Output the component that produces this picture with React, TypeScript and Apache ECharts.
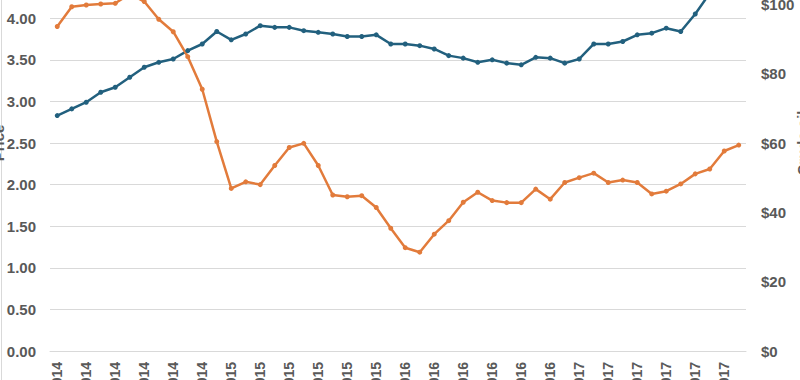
import React, { useEffect, useRef } from "react";
import * as echarts from "echarts";

const months = ["Jan", "Feb", "Mar", "Apr", "May", "Jun", "Jul", "Aug", "Sep", "Oct", "Nov", "Dec"];
const years = [2014, 2015, 2016, 2017];
const categories: string[] = [];
years.forEach((y) => months.forEach((m) => categories.push(`${m} ${y}`)));

const blueSeries = [
  2.83, 2.91, 2.99, 3.11, 3.17, 3.29, 3.41, 3.47, 3.51, 3.61, 3.69, 3.84,
  3.74, 3.81, 3.91, 3.89, 3.89, 3.85, 3.83, 3.81, 3.78, 3.78, 3.8, 3.69,
  3.69, 3.67, 3.63, 3.55, 3.52, 3.47, 3.5, 3.46, 3.44, 3.53, 3.52, 3.46,
  3.51, 3.69, 3.69, 3.72, 3.8, 3.82, 3.88, 3.84, 4.05, 4.3, 4.42, 4.5,
];

const orangeSeries = [
  93.6, 99.3, 99.8, 100.1, 100.3, 103.0, 100.8, 95.7, 92.1, 84.9, 75.5, 60.4,
  46.9, 48.8, 48.0, 53.5, 58.7, 59.9, 53.5, 45.0, 44.5, 44.8, 41.4, 35.4,
  29.8, 28.5, 33.7, 37.6, 42.9, 45.8, 43.4, 42.8, 42.8, 46.7, 43.8, 48.6,
  50.0, 51.3, 48.6, 49.3, 48.6, 45.3, 46.1, 48.2, 51.1, 52.5, 57.7, 59.4,
];

const leftTicks = { min: 0, max: 5, interval: 0.5 };
const rightTicks = { min: 0, max: 120, interval: 20 };

export default function App() {
  const ref = useRef<HTMLDivElement>(null);

  useEffect(() => {
    if (!ref.current) return;
    const chart = echarts.init(ref.current, undefined, { renderer: "svg" });
    const labelStyle = {
      color: "#595959",
      fontWeight: "bold" as const,
      fontFamily: "Liberation Sans, Arial, sans-serif",
    };
    chart.setOption({
      animation: false,
      backgroundColor: "#ffffff",
      grid: {
        left: 50,
        right: 54,
        top: 35,
        bottom: 109,
        containLabel: false,
        outerBoundsMode: "none",
      },
      xAxis: {
        type: "category",
        data: categories,
        boundaryGap: true,
        axisTick: { show: false },
        axisLine: { show: true, lineStyle: { color: "#d9d9d9", width: 1 } },
        axisLabel: {
          ...labelStyle,
          fontSize: 14,
          rotate: 90,
          interval: 1,
          margin: 11,
        },
      },
      yAxis: [
        {
          type: "value",
          ...leftTicks,
          name: "Price",
          nameLocation: "middle",
          nameGap: 44,
          nameMoveOverlap: false,
          nameTextStyle: { ...labelStyle, fontSize: 15 },
          axisLine: { show: false },
          axisTick: { show: false },
          axisLabel: {
            ...labelStyle,
            fontSize: 15,
            margin: 14,
            formatter: (v: number) => v.toFixed(2),
          },
          splitLine: { show: true, lineStyle: { color: "#d9d9d9", width: 1 } },
        },
        {
          type: "value",
          ...rightTicks,
          name: "Crude oil",
          nameLocation: "middle",
          nameGap: 49,
          nameMoveOverlap: false,
          nameTextStyle: { ...labelStyle, fontSize: 15 },
          axisLine: { show: false },
          axisTick: { show: false },
          axisLabel: {
            ...labelStyle,
            fontSize: 15,
            margin: 15,
            formatter: (v: number) => `$${v}`,
          },
          splitLine: { show: false },
        },
      ],
      series: [
        {
          type: "line",
          yAxisIndex: 0,
          data: blueSeries,
          symbol: "circle",
          symbolSize: 5,
          lineStyle: { color: "#22607e", width: 2.5 },
          itemStyle: { color: "#22607e" },
        },
        {
          type: "line",
          yAxisIndex: 1,
          data: orangeSeries,
          symbol: "circle",
          symbolSize: 5,
          lineStyle: { color: "#e27b3b", width: 2.5 },
          itemStyle: { color: "#e27b3b" },
        },
      ],
      graphic: [
        {
          type: "line",
          shape: { x1: 1.5, y1: 0, x2: 1.5, y2: 560 },
          style: { stroke: "#d9d9d9", lineWidth: 1 },
          silent: true,
        },
      ],
    });
    return () => chart.dispose();
  }, []);

  return (
    <div
      style={{
        position: "fixed",
        left: 0,
        top: 0,
        width: 800,
        height: 380,
        overflow: "hidden",
        background: "#fff",
      }}
    >
      <div
        ref={ref}
        style={{ position: "absolute", left: 0, top: -100, width: 800, height: 560 }}
      />
    </div>
  );
}
